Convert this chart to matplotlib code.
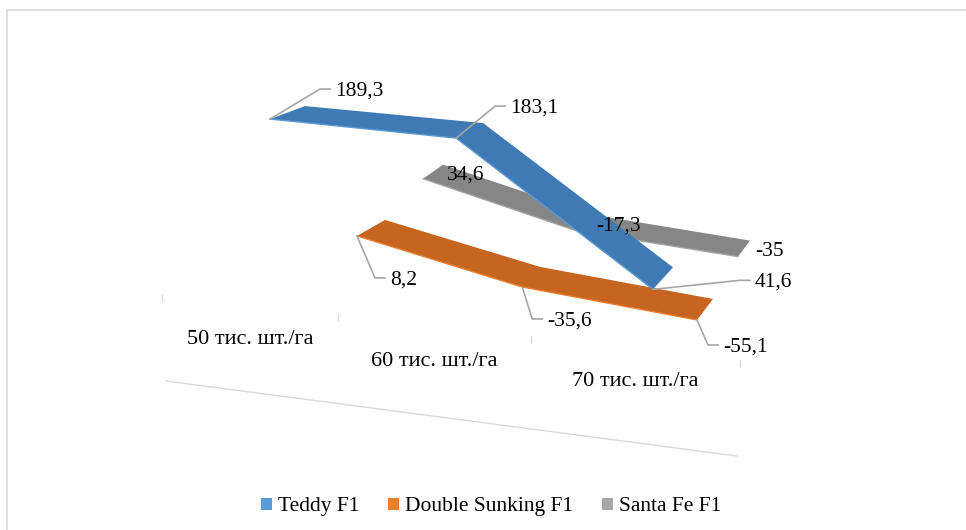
import matplotlib
matplotlib.use('Agg')
import matplotlib.pyplot as plt
from matplotlib.patches import Polygon, Patch

plt.rcParams['font.family'] = ['Liberation Serif', 'DejaVu Serif']

# дані
categories = ['50 тис. шт./га', '60 тис. шт./га', '70 тис. шт./га']
series_names = ['Teddy F1', 'Double Sunking F1', 'Santa Fe F1']
teddy = [189.3, 183.1, 41.6]
double_sunking = [8.2, -35.6, -55.1]
santa_fe = [34.6, -17.3, -35]

# 3D вигляд: кожен ряд має свою "площину" на екрані (x0, ширина, y при 0, нахил, масштаб)
frames = {
    'Teddy F1': (270, 383, 304, 13.0, 0.977),
    'Double Sunking F1': (357, 340, 242, 18.6, 0.74),
    'Santa Fe F1': (423, 315, 205, 12.5, 0.76),
}
depth_dx = {'Teddy F1': [35, 27, 20], 'Double Sunking F1': [28, 18, 16], 'Santa Fe F1': [20, 16, 12]}
depth_dy = {'Teddy F1': [-13, -15, -22], 'Double Sunking F1': [-16, -20, -21], 'Santa Fe F1': [-14, -16, -16]}
cat_pos = [0, 0.486, 1]

top_colors = {'Teddy F1': '#3F7AB5', 'Double Sunking F1': '#C5651F', 'Santa Fe F1': '#868686'}
legend_colors = {'Teddy F1': '#5B9BD5', 'Double Sunking F1': '#ED7D31', 'Santa Fe F1': '#A5A5A5'}
values = {'Teddy F1': teddy, 'Double Sunking F1': double_sunking, 'Santa Fe F1': santa_fe}

# зсуви підписів відносно точки ряду, третій елемент - чи є лінія-виноска
label_offset = {
    ('Teddy F1', 0): (65, -30, True), ('Teddy F1', 1): (54, -32, True), ('Teddy F1', 2): (102, -9, True),
    ('Double Sunking F1', 0): (33, 42, True), ('Double Sunking F1', 1): (25, 32, True),
    ('Double Sunking F1', 2): (26, 25, True),
    ('Santa Fe F1', 0): (24, -6, False), ('Santa Fe F1', 1): (20, -7, False), ('Santa Fe F1', 2): (17, -7, False),
}


def project(name, i, val):
    x0, span, y0, slope, k = frames[name]
    return x0 + span * cat_pos[i], y0 + slope * i - k * val


fig = plt.figure(figsize=(9.66, 5.30), dpi=100)
ax = fig.add_axes([0, 0, 1, 1])
ax.set_xlim(0, 966)
ax.set_ylim(530, 0)
ax.axis('off')

# рамка
ax.plot([6.5, 6.5, 966], [530, 9.5, 9.5], color='#D9D9D9', lw=1.2)

# підлога і поділки
ax.plot([166, 737], [381, 456], color='#D9D9D9', lw=1)
for tx, ty in zip([162, 338, 531, 740], [298, 317, 339, 363]):
    ax.plot([tx, tx], [ty - 3, ty + 3], color='#D9D9D9', lw=1)

for cat, lx, ly in zip(categories, [187, 371, 572], [339, 361, 382]):
    ax.text(lx, ly, cat, fontsize=16, va='center', ha='left', color='black')

# стрічки
for name in ['Santa Fe F1', 'Double Sunking F1', 'Teddy F1']:
    front = [project(name, i, v) for i, v in enumerate(values[name])]
    rear = [(x + depth_dx[name][i], y + depth_dy[name][i]) for i, (x, y) in enumerate(front)]
    ax.add_patch(Polygon(front + rear[::-1], closed=True, facecolor=top_colors[name], edgecolor='none', zorder=3))
    ax.plot([p[0] for p in front], [p[1] for p in front], color=legend_colors[name], lw=1, zorder=3)

# підписи
for name in series_names:
    for i, v in enumerate(values[name]):
        x, y = project(name, i, v)
        dx, dy, leader = label_offset[(name, i)]
        if leader:
            bx, by = x + dx - 15, y + dy
            ax.plot([x, bx, bx + 10], [y, by, by], color='#A6A6A6', lw=1.2, zorder=4)
        ax.text(x + dx, y + dy + 2, f'{v:g}'.replace('.', ','), fontsize=15.5, va='center', ha='left',
                color='black', zorder=5)

handles = [Patch(facecolor=legend_colors[n], edgecolor='none', label=n) for n in series_names]
ax.legend(handles=handles, loc='center', bbox_to_anchor=(0.5083, 0.0435), ncol=3, frameon=False, fontsize=15.5,
          handlelength=0.52, handleheight=0.52, handletextpad=0.26, columnspacing=1.35, borderpad=0)

fig.savefig('out.png', dpi=100)
